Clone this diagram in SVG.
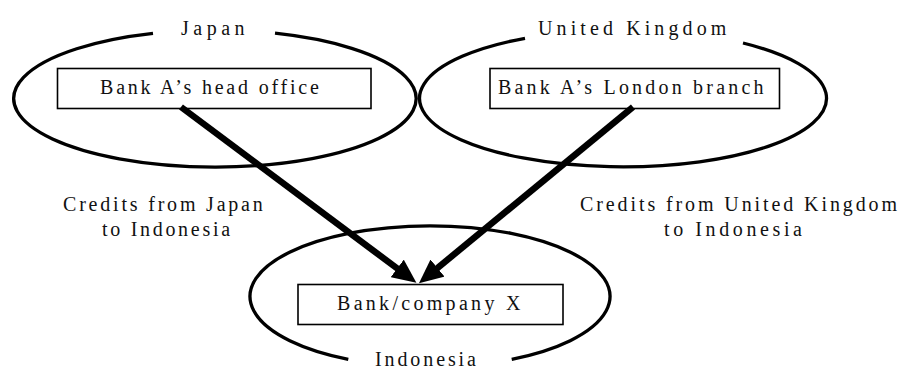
<svg xmlns="http://www.w3.org/2000/svg" width="904" height="369" viewBox="0 0 904 369">
<style>
text{font-family:"Liberation Serif","Times New Roman",serif;font-size:20px;fill:#111;}
.region{fill:none;stroke:#000;stroke-width:3.3;}
.box{fill:#fff;stroke:#000;stroke-width:1.6;}
.arrow{stroke:#000;stroke-width:6.5;fill:none;marker-end:url(#head);}
</style>
<defs>
<marker id="head" markerUnits="userSpaceOnUse" markerWidth="24" markerHeight="22" refX="11" refY="11" orient="auto">
<path d="M0,0 L24,11 L0,22 z" fill="#000"/>
</marker>
</defs>
<g id="japan">
<path class="region" d="M153,33.4 A201.2,68.5 0 1 0 275,33.2"/>
<text x="181" y="35" letter-spacing="4.5">Japan</text>
</g>
<g id="uk">
<path class="region" d="M525,38.3 A203.5,68.5 0 1 0 743,43"/>
<text x="538" y="35" letter-spacing="4.1">United Kingdom</text>
</g>
<g id="indonesia">
<path class="region" d="M348.3,359.3 A180,70.6 0 1 1 511.7,359.3"/>
<text x="375" y="365.5" letter-spacing="2.9">Indonesia</text>
</g>
<g id="head-office">
<rect class="box" x="57.5" y="68.5" width="313.5" height="40"/>
<text x="100" y="94" letter-spacing="2.8">Bank A’s head office</text>
</g>
<g id="london-branch">
<rect class="box" x="490" y="68.5" width="289.5" height="40"/>
<text x="498" y="93.5" letter-spacing="3.2">Bank A’s London branch</text>
</g>
<g id="bank-x">
<rect class="box" x="298" y="284.5" width="265" height="40"/>
<text x="337" y="310" letter-spacing="3.3">Bank/company X</text>
</g>
<g id="connectors">
<line class="arrow" x1="181" y1="107" x2="406" y2="275"/>
<line class="arrow" x1="633" y1="107" x2="429" y2="275"/>
</g>
<g id="labels">
<text x="63" y="211" letter-spacing="2.8">Credits from Japan</text>
<text x="102" y="236" letter-spacing="2.7">to Indonesia</text>
<text x="580" y="211" letter-spacing="2.9">Credits from United Kingdom</text>
<text x="664" y="236" letter-spacing="3.6">to Indonesia</text>
</g>
</svg>
